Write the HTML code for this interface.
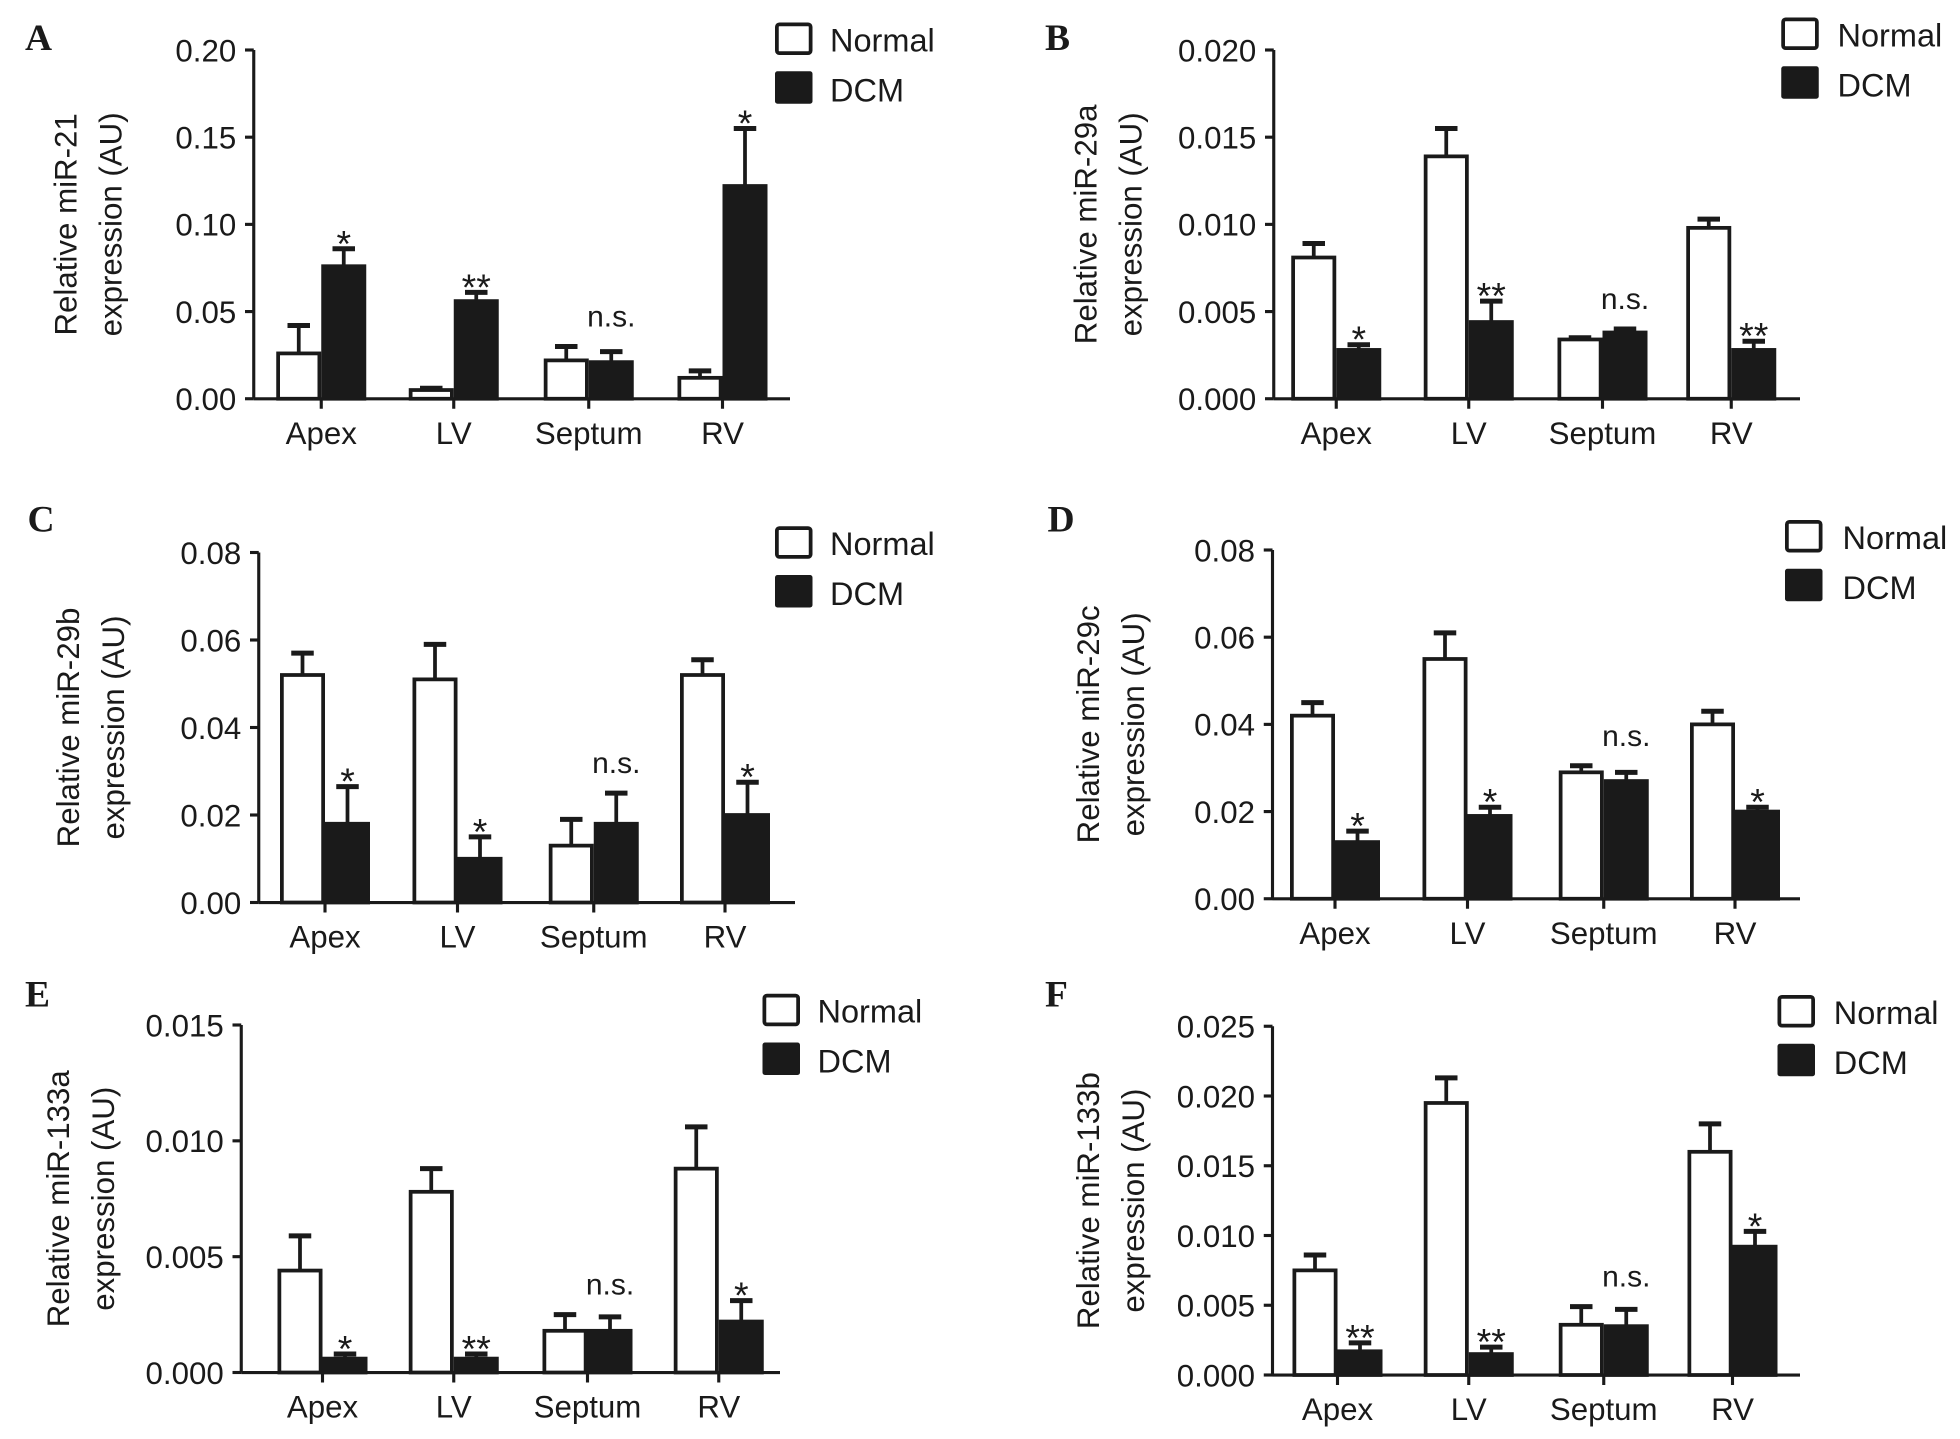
<!DOCTYPE html>
<html><head><meta charset="utf-8"><style>
html,body{margin:0;padding:0;background:#fff}
svg{display:block}
text{font-family:"Liberation Sans",Arial,sans-serif;fill:#1a1a1a}
text.letter{font-family:"Liberation Serif","DejaVu Serif",serif;font-weight:bold}
</style></head><body>
<svg id="fig" width="1960" height="1439" viewBox="0 0 1568 1151.2" xmlns="http://www.w3.org/2000/svg"></svg>
<script>
const categories=["Apex","LV","Septum","RV"];
const normalA=[0.026,0.005,0.022,0.012], normalErrA=[0.042,0.006,0.030,0.016];
const dcmA=[0.076,0.056,0.021,0.122], dcmErrA=[0.086,0.061,0.027,0.155];
const sigA=["*","**","n.s.","*"], ticksA=["0.00","0.05","0.10","0.15","0.20"];
const normalB=[0.0081,0.0139,0.0034,0.0098], normalErrB=[0.0089,0.0155,0.0035,0.0103];
const dcmB=[0.0028,0.0044,0.0038,0.0028], dcmErrB=[0.0031,0.0056,0.0040,0.0033];
const sigB=["*","**","n.s.","**"], ticksB=["0.000","0.005","0.010","0.015","0.020"];
const normalC=[0.052,0.051,0.013,0.052], normalErrC=[0.057,0.059,0.019,0.0555];
const dcmC=[0.018,0.010,0.018,0.020], dcmErrC=[0.0265,0.015,0.025,0.0275];
const sigC=["*","*","n.s.","*"], ticksC=["0.00","0.02","0.04","0.06","0.08"];
const normalD=[0.042,0.055,0.029,0.040], normalErrD=[0.045,0.061,0.0305,0.043];
const dcmD=[0.013,0.019,0.027,0.020], dcmErrD=[0.0155,0.021,0.029,0.021];
const sigD=["*","*","n.s.","*"], ticksD=["0.00","0.02","0.04","0.06","0.08"];
const normalE=[0.0044,0.0078,0.0018,0.0088], normalErrE=[0.0059,0.0088,0.0025,0.0106];
const dcmE=[0.0006,0.0006,0.0018,0.0022], dcmErrE=[0.0008,0.0008,0.0024,0.0031];
const sigE=["*","**","n.s.","*"], ticksE=["0.000","0.005","0.010","0.015"];
const normalF=[0.0075,0.0195,0.0036,0.016], normalErrF=[0.0086,0.0213,0.0049,0.018];
const dcmF=[0.0017,0.0015,0.0035,0.0092], dcmErrF=[0.0023,0.0020,0.0047,0.0103];
const sigF=["**","**","n.s.","*"], ticksF=["0.000","0.005","0.010","0.015","0.020","0.025"];

const svg=document.getElementById('fig');
const NS="http://www.w3.org/2000/svg";
function mk(tag,attrs,parent,txt){const e=document.createElementNS(NS,tag);for(const k in attrs)e.setAttribute(k,attrs[k]);if(txt!==undefined)e.textContent=txt;(parent||svg).appendChild(e);return e;}

const panels=[
 {id:"a",letter:"A",mir:"miR-21",ax:203,y0:319,yt:40,xe:632,cx:[257,363,471,578],lg:[620,18,664],n:normalA,ne:normalErrA,d:dcmA,de:dcmErrA,s:sigA,t:ticksA,ly:40,lx:20,tx:52},
 {id:"b",letter:"B",mir:"miR-29a",ax:1019,y0:319,yt:40,xe:1440,cx:[1069,1175,1282,1385],lg:[1425,14,1470],n:normalB,ne:normalErrB,d:dcmB,de:dcmErrB,s:sigB,t:ticksB,ly:40,lx:836,tx:868},
 {id:"c",letter:"C",mir:"miR-29b",ax:207,y0:722,yt:442,xe:636,cx:[260,366,475,580],lg:[620,421,664],n:normalC,ne:normalErrC,d:dcmC,de:dcmErrC,s:sigC,t:ticksC,ly:425,lx:22,tx:54},
 {id:"d",letter:"D",mir:"miR-29c",ax:1018,y0:719,yt:440,xe:1440,cx:[1068,1174,1283,1388],lg:[1428,416,1474],n:normalD,ne:normalErrD,d:dcmD,de:dcmErrD,s:sigD,t:ticksD,ly:425,lx:838,tx:870},
 {id:"e",letter:"E",mir:"miR-133a",ax:193,y0:1098,yt:820,xe:624,cx:[258,363,470,575],lg:[610,795,654],n:normalE,ne:normalErrE,d:dcmE,de:dcmErrE,s:sigE,t:ticksE,ly:805,lx:20,tx:46},
 {id:"f",letter:"F",mir:"miR-133b",ax:1018,y0:1100,yt:821,xe:1440,cx:[1070,1175,1283,1386],lg:[1422,796,1467],n:normalF,ne:normalErrF,d:dcmF,de:dcmErrF,s:sigF,t:ticksF,ly:805,lx:836,tx:870}
];
panels.forEach(p=>{
 const g=mk('g',{});
 
 
 const maxV=parseFloat(p.t[p.t.length-1]);
 const y=v=>p.y0-(v/maxV)*(p.y0-p.yt);
 const L=mk('text',{x:p.lx,y:p.ly,'font-size':30,'class':'letter'},g,p.letter);
 
 
 const cy=(p.y0+p.yt)/2;
 const t1=mk('text',{x:0,y:0,'font-size':25,'text-anchor':'middle',transform:`translate(${p.tx+9},${cy}) rotate(-90)`},g,"Relative "+p.mir);
 
 
 mk('text',{x:0,y:0,'font-size':25,'text-anchor':'middle',transform:`translate(${p.tx+45},${cy}) rotate(-90)`},g,"expression (AU)");
 mk('line',{x1:p.ax,y1:p.yt,x2:p.ax,y2:p.y0,stroke:'#1a1a1a','stroke-width':2.5},g);
 mk('line',{x1:p.ax,y1:p.y0,x2:p.xe,y2:p.y0,stroke:'#1a1a1a','stroke-width':2.5},g);
 p.t.forEach(tl=>{const yy=y(parseFloat(tl));
  mk('line',{x1:p.ax-7,y1:yy,x2:p.ax,y2:yy,stroke:'#1a1a1a','stroke-width':2.5},g);
  const tt=mk('text',{x:p.ax-14,y:yy+9,'font-size':25,'text-anchor':'end'},g,tl);
  
  
 });
 categories.forEach((c,i)=>{
  const cx=p.cx[i];
  mk('line',{x1:cx,y1:p.y0,x2:cx,y2:p.y0+8,stroke:'#1a1a1a','stroke-width':2.5},g);
  const xl=mk('text',{x:cx,y:p.y0+36,'font-size':25,'text-anchor':'middle'},g,c);
  
  
  [[p.n[i],p.ne[i],cx-36,'#fff'],[p.d[i],p.de[i],cx,'#1a1a1a']].forEach(([v,e,x0,f],k)=>{
   const ex=x0+18;
   mk('line',{x1:ex,y1:y(v),x2:ex,y2:y(e),stroke:'#1a1a1a','stroke-width':3},g);
   mk('line',{x1:ex-9,y1:y(e),x2:ex+9,y2:y(e),stroke:'#1a1a1a','stroke-width':4},g);
   const b=mk('rect',{x:x0+1.5,y:y(v),width:33,height:p.y0-y(v),fill:f,stroke:'#1a1a1a','stroke-width':3},g);
   
   
  });
  const ns=p.s[i]==="n.s.";
  const s=mk('text',{x:cx+18,y:ns?y(Math.max(p.de[i],p.ne[i]))-16:y(p.de[i])+6,'font-size':ns?24:30,'text-anchor':'middle'},g,p.s[i]);
  
  
 });
 const [lx,ly,tx]=p.lg;
 const l1=mk('rect',{x:lx+1.5,y:ly+1.5,width:27,height:23,fill:'#fff',stroke:'#1a1a1a','stroke-width':3,rx:2},g);
 
 
 mk('text',{x:tx,y:ly+23,'font-size':26},g,"Normal");
 const l2=mk('rect',{x:lx,y:ly+39,width:30,height:26,fill:'#1a1a1a',rx:2},g);
 
 
 mk('text',{x:tx,y:ly+63,'font-size':26},g,"DCM");
});
</script>
</body></html>
